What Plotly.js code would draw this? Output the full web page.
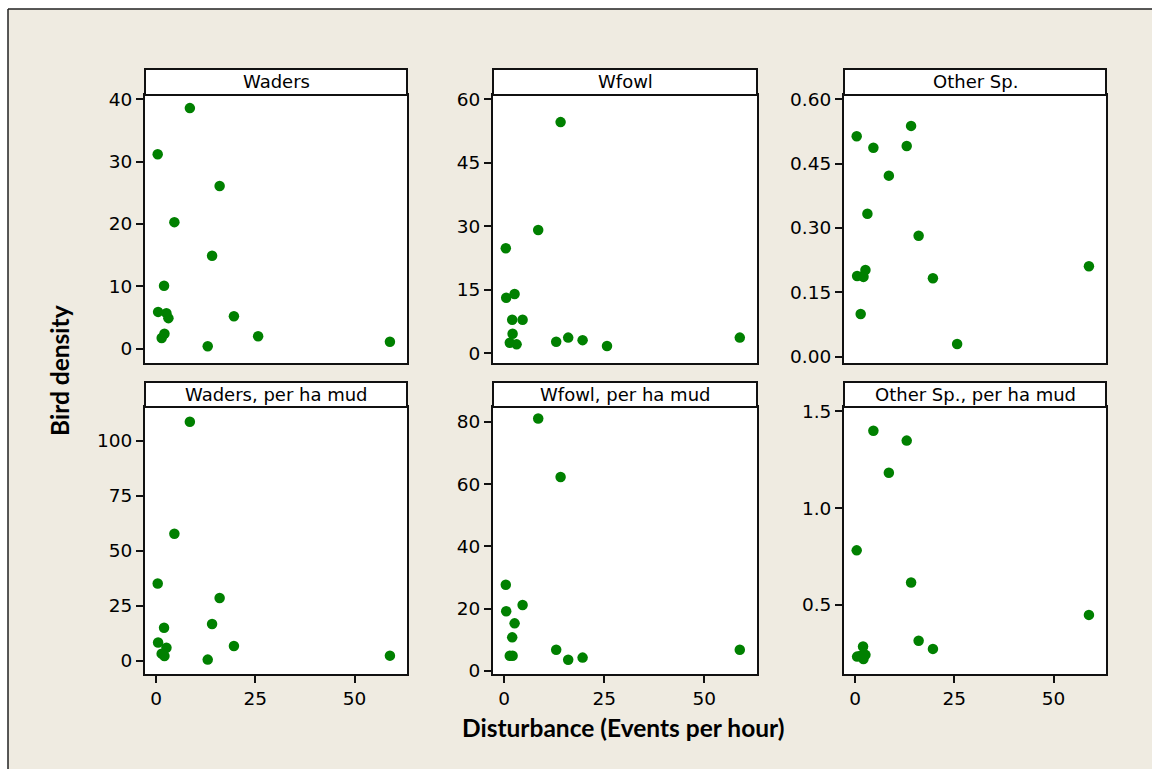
<!DOCTYPE html>
<html>
<head>
<meta charset="utf-8">
<script src="https://cdn.plot.ly/plotly-3.0.1.min.js"></script>
<style>html,body{margin:0;padding:0;background:#fff;}#chart{width:1152px;height:769px;}</style>
</head>
<body>
<div id="chart"></div>
<script>
// Disturbance (events per hour) for each site
const disturbance = [0.4, 0.5, 1.4, 2.0, 2.1, 2.6, 3.1, 4.6, 8.5, 13.0, 14.1, 16.0, 19.6, 25.7, 58.9];
// Bird densities
const waders      = [31.2, 5.9, 1.7, 10.1, 2.4, 5.7, 4.9, 20.3, 38.6, 0.4, 14.9, 26.1, 5.2, 2.0, 1.1];
const wfowl       = [24.8, 13.1, 2.5, 7.9, 4.6, 14.0, 2.1, 7.9, 29.1, 2.7, 54.6, 3.7, 3.1, 1.7, 3.7];
const otherSp     = [0.514, 0.188, 0.0995, 0.188, 0.186, 0.202, 0.333, 0.487, 0.422, 0.491, 0.538, 0.282, 0.183, 0.0295, 0.211];
const wadersMud   = [35.1, 8.3, 3.2, 15.0, 2.1, 5.9, null, 57.7, 108.6, 0.5, 16.7, 28.5, 6.7, null, 2.3];
const wfowlMud    = [27.7, 19.2, 4.9, 10.8, 4.9, 15.3, null, 21.2, 81.1, 6.8, 62.3, 3.6, 4.3, null, 6.8];
const otherMud    = [0.781, 0.231, 0.236, 0.283, 0.219, 0.240, null, 1.40, 1.183, 1.349, 0.615, 0.313, 0.271, null, 0.447];

const panelTitles = ["Waders", "Wfowl", "Other Sp.", "Waders, per ha mud", "Wfowl, per ha mud", "Other Sp., per ha mud"];
const panelSeries = [waders, wfowl, otherSp, wadersMud, wfowlMud, otherMud];
const yTicks = [
  [0, 10, 20, 30, 40],
  [0, 15, 30, 45, 60],
  [0, 0.15, 0.30, 0.45, 0.60],
  [0, 25, 50, 75, 100],
  [0, 20, 40, 60, 80],
  [0.5, 1.0, 1.5]
];
const yFormats = ["", "", ".2f", "", "", ".1f"];
const xTicks = [0, 25, 50];
const xTitle = "Disturbance (Events per hour)";
const yTitle = "Bird density";

// ----- layout geometry -----
const W = 1152, H = 769;
const px = v => v / W;
const py = v => 1 - v / H;
const colX = [[145, 407], [493, 757], [844, 1106]];
const rowPlot = [[95, 363], [407, 674]];
const rowStrip = [[69, 95], [382, 407]];
const yRanges = [[-2.3, 40.7], [-2.3, 61.0], [-0.0147, 0.610], [-6.05, 115.3], [-0.97, 84.8], [0.141, 1.523]];
const xRange = [-2.8, 63.2];

const tickFont = {family: "DejaVu Sans, Verdana, sans-serif", size: 18.5, color: "#000"};
const green = "rgb(0,128,0)";

const traces = [];
const layout = {
  width: W, height: H,
  margin: {l: 0, r: 0, t: 0, b: 0},
  paper_bgcolor: "#EFEBE1",
  plot_bgcolor: "#ffffff",
  showlegend: false,
  shapes: [],
  annotations: []
};

// white area outside the frame (top and left)
layout.shapes.push({type: "rect", xref: "paper", yref: "paper", x0: -0.01, x1: px(8), y0: -0.01, y1: 1.01, fillcolor: "#ffffff", line: {width: 0}, layer: "below"});
layout.shapes.push({type: "rect", xref: "paper", yref: "paper", x0: -0.01, x1: 1.01, y0: py(9), y1: 1.01, fillcolor: "#ffffff", line: {width: 0}, layer: "below"});
layout.shapes.push({type: "line", xref: "paper", yref: "paper", x0: px(8), x1: px(8), y0: -0.01, y1: py(9), line: {color: "#222", width: 1.5}});
layout.shapes.push({type: "line", xref: "paper", yref: "paper", x0: px(8), x1: 1.01, y0: py(9), y1: py(9), line: {color: "#222", width: 1.5}});

for (let i = 0; i < 6; i++) {
  const r = Math.floor(i / 3), c = i % 3;
  const sfx = i === 0 ? "" : String(i + 1);
  traces.push({
    type: "scatter", mode: "markers",
    x: disturbance, y: panelSeries[i],
    xaxis: "x" + sfx, yaxis: "y" + sfx,
    marker: {color: green, size: 10.5},
    hoverinfo: "x+y"
  });
  const xa = {
    domain: [px(colX[c][0]), px(colX[c][1])],
    anchor: "y" + sfx,
    range: xRange,
    showgrid: false, zeroline: false,
    showline: true, mirror: true, linecolor: "#111", linewidth: 2,
    tickfont: tickFont
  };
  if (r === 1) {
    xa.tickmode = "array"; xa.tickvals = xTicks;
    xa.ticks = "outside"; xa.ticklen = 7; xa.tickwidth = 2; xa.tickcolor = "#111";
  } else {
    xa.showticklabels = false; xa.ticks = "";
  }
  const ya = {
    domain: [py(rowPlot[r][1]), py(rowPlot[r][0])],
    anchor: "x" + sfx,
    range: yRanges[i],
    tickmode: "array", tickvals: yTicks[i], tickformat: yFormats[i],
    ticks: "outside", ticklen: 7, tickwidth: 2, tickcolor: "#111",
    showgrid: false, zeroline: false,
    showline: true, mirror: true, linecolor: "#111", linewidth: 2,
    tickfont: tickFont
  };
  layout["xaxis" + sfx] = xa;
  layout["yaxis" + sfx] = ya;

  // strip
  layout.shapes.push({
    type: "rect", xref: "paper", yref: "paper",
    x0: px(colX[c][0]), x1: px(colX[c][1]),
    y0: py(rowStrip[r][1]), y1: py(rowStrip[r][0]),
    fillcolor: "#ffffff", line: {color: "#111", width: 2}
  });
  layout.annotations.push({
    xref: "paper", yref: "paper",
    x: px((colX[c][0] + colX[c][1]) / 2), y: py((rowStrip[r][0] + rowStrip[r][1]) / 2),
    text: panelTitles[i], showarrow: false,
    xanchor: "center", yanchor: "middle",
    font: {family: "DejaVu Sans, Verdana, sans-serif", size: 18, color: "#000"}
  });
}

layout.annotations.push({
  xref: "paper", yref: "paper", x: px(623), y: py(727),
  text: "<b>" + xTitle + "</b>", showarrow: false, xanchor: "center", yanchor: "middle",
  font: {family: "Lato, 'Open Sans', sans-serif", size: 24.5, color: "#000"}
});
layout.annotations.push({
  xref: "paper", yref: "paper", x: px(59), y: py(371),
  text: "<b>" + yTitle + "</b>", showarrow: false, textangle: -90, xanchor: "center", yanchor: "middle",
  font: {family: "Lato, 'Open Sans', sans-serif", size: 24.5, color: "#000"}
});

Plotly.newPlot("chart", traces, layout, {staticPlot: true, displayModeBar: false});
</script>
</body>
</html>
